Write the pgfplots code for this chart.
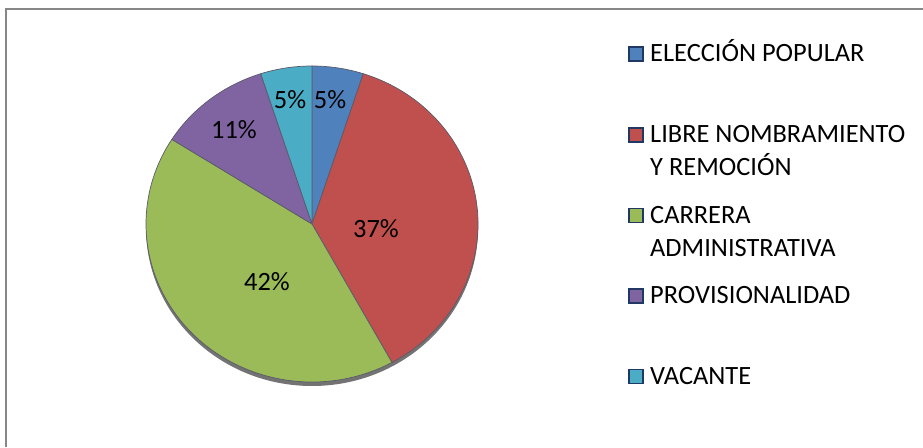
\documentclass[border=0pt]{standalone}
\usepackage{fontspec}
\setmainfont{Carlito}
\usepackage{pgfplots}
\usepackage{pgfplotstable}
\pgfplotsset{compat=1.18}
\definecolor{pie0}{HTML}{4F81BD}
\definecolor{pie1}{HTML}{C0504D}
\definecolor{pie2}{HTML}{9BBB59}
\definecolor{pie3}{HTML}{8064A2}
\definecolor{pie4}{HTML}{4BACC6}
\definecolor{navy}{HTML}{1F3864}
\definecolor{edgec}{HTML}{5A5A6A}
\definecolor{framec}{HTML}{878787}

\pgfplotstableread{
idx value
0 5
1 37
2 42
3 11
4 5
}\piedata

\gdef\cumsum{0}
\foreach \i in {0,...,4}{%
  \pgfplotstablegetelem{\i}{value}\of\piedata
  \pgfmathsetmacro\s{90-3.6*\cumsum}%
  \pgfmathsetmacro\newcum{\cumsum+\pgfplotsretval}%
  \pgfmathsetmacro\e{90-3.6*\newcum}%
  \global\expandafter\let\csname sa\i\endcsname\s
  \global\expandafter\let\csname ea\i\endcsname\e
  \global\let\cumsum\newcum
}

\begin{document}
\begin{tikzpicture}
\useasboundingbox (0,0) rectangle (923pt,447pt);
\begin{axis}[
  at={(0,0)}, anchor=origin,
  x=1pt, y=1pt,
  xmin=0, xmax=923, ymin=0, ymax=447,
  hide axis, clip=false,
]
% frame
\draw[framec, line width=2pt] (axis cs:6,0) -- (axis cs:6,438) -- (axis cs:923,438);
% shadow
\fill[black, opacity=0.55] (axis cs:312,219) ellipse[x radius=166pt, y radius=158pt];
% wedges
\pgfplotsinvokeforeach{0,...,4}{
  \filldraw[fill=pie#1, draw=edgec, line width=0.7pt, line join=round]
    (axis cs:312,223) -- ++({cos(\csname sa#1\endcsname)*166pt},{sin(\csname sa#1\endcsname)*158pt})
    arc[start angle=\csname sa#1\endcsname, end angle=\csname ea#1\endcsname, x radius=166pt, y radius=158pt] -- cycle;
}
% labels
\begin{scope}[every node/.style={font=\fontsize{26.4}{30}\selectfont, inner sep=0pt}]
\node at (axis cs:330,347) {5\%};
\node at (axis cs:290,347) {5\%};
\node at (axis cs:234,317) {11\%};
\node at (axis cs:376,218) {37\%};
\node at (axis cs:267,165) {42\%};
\end{scope}
% legend
\begin{scope}[every node/.style={font=\fontsize{26.4}{30}\selectfont, inner sep=0pt, anchor=base west}]
\filldraw[fill=pie0, draw=navy, line width=1.8pt] (axis cs:629,400) rectangle (axis cs:643,386);
\node at (axis cs:650,385) {ELECCIÓN POPULAR};
\filldraw[fill=pie1, draw=navy, line width=1.8pt] (axis cs:629,319) rectangle (axis cs:643,305);
\node at (axis cs:650,304) {LIBRE NOMBRAMIENTO};
\node at (axis cs:650,271) {Y REMOCIÓN};
\filldraw[fill=pie2, draw=navy, line width=1.8pt] (axis cs:629,238.5) rectangle (axis cs:643,224.5);
\node at (axis cs:650,223.5) {CARRERA};
\node at (axis cs:650,190.5) {ADMINISTRATIVA};
\filldraw[fill=pie3, draw=navy, line width=1.8pt] (axis cs:629,158) rectangle (axis cs:643,144);
\node at (axis cs:650,143) {PROVISIONALIDAD};
\filldraw[fill=pie4, draw=navy, line width=1.8pt] (axis cs:629,77.5) rectangle (axis cs:643,63.5);
\node at (axis cs:650,62.5) {VACANTE};
\end{scope}
\end{axis}
\end{tikzpicture}
\end{document}
